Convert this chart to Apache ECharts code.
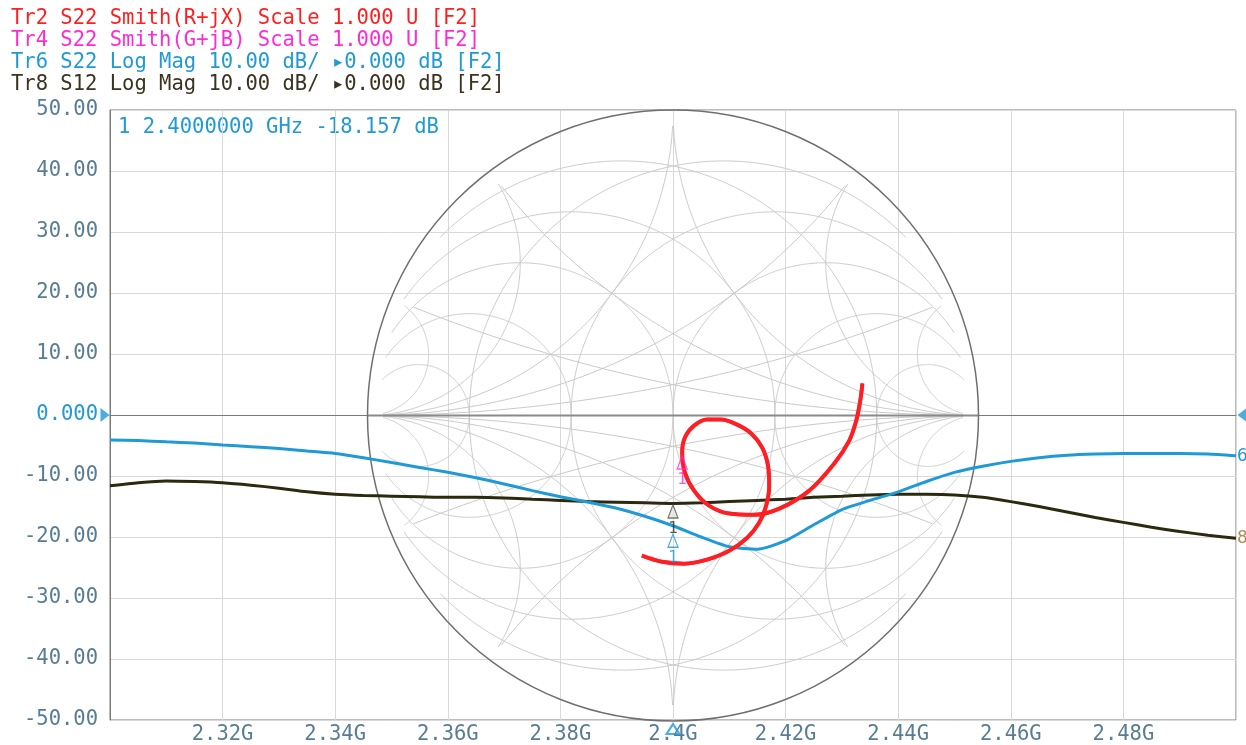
<!DOCTYPE html>
<html>
<head>
<meta charset="utf-8">
<script src="https://cdn.jsdelivr.net/npm/echarts@6/dist/echarts.min.js"></script>
<style>
  html, body { margin: 0; padding: 0; background: #ffffff; }
  #chart { width: 1246px; height: 745px; }
</style>
</head>
<body>
<div id="chart"></div>
<script>
// Sweep points (GHz)
const freqGHz = [
  2.300, 2.305, 2.310, 2.315, 2.320, 2.325, 2.330, 2.335, 2.340, 2.345,
  2.350, 2.355, 2.360, 2.365, 2.370, 2.375, 2.380, 2.385, 2.390, 2.395,
  2.400, 2.405, 2.410, 2.415, 2.420, 2.425, 2.430, 2.435, 2.440, 2.445,
  2.450, 2.455, 2.460, 2.465, 2.470, 2.475, 2.480, 2.485, 2.490, 2.495, 2.500
];

// Tr6: S22 log magnitude (dB)
const s22LogMag = [
  -4.1, -4.2, -4.4, -4.6, -4.9, -5.2, -5.5, -5.9, -6.3, -7.0,
  -7.8, -8.6, -9.4, -10.3, -11.3, -12.4, -13.4, -14.3, -15.3, -16.6,
  -18.157, -20.0, -21.6, -22.0, -20.6, -18.0, -15.5, -14.0, -12.6, -10.9,
  -9.4, -8.4, -7.6, -7.0, -6.6, -6.4, -6.3, -6.3, -6.3, -6.4, -6.7
];

// Tr8: S12 log magnitude (dB)
const s12LogMag = [
  -11.6, -11.1, -10.8, -10.9, -11.1, -11.5, -12.0, -12.6, -13.0, -13.2,
  -13.3, -13.4, -13.5, -13.5, -13.6, -13.8, -14.0, -14.2, -14.3, -14.4,
  -14.5, -14.4, -14.2, -14.0, -13.8, -13.5, -13.3, -13.1, -13.0, -13.0,
  -13.1, -13.5, -14.2, -15.0, -15.9, -16.8, -17.6, -18.4, -19.1, -19.7, -20.2
];

// Tr2 / Tr4: S22 reflection coefficient on the Smith chart (real, imaginary)
const s22Re = [
  0.620, 0.613, 0.600, 0.577, 0.528, 0.446, 0.348, 0.266, 0.184, 0.118,
  0.069, 0.039, 0.030, 0.039, 0.069, 0.111, 0.157, 0.210, 0.256, 0.292,
  0.311, 0.315, 0.305, 0.282, 0.243, 0.184, 0.111, 0.036, -0.036, -0.102
];
const s22Im = [
  0.105, 0.049, -0.016, -0.082, -0.157, -0.246, -0.305, -0.325, -0.321, -0.295,
  -0.246, -0.187, -0.121, -0.072, -0.033, -0.013, -0.013, -0.030, -0.059, -0.105,
  -0.164, -0.230, -0.295, -0.351, -0.400, -0.443, -0.472, -0.485, -0.479, -0.459
];
// point of the Smith trace that sits at the marker frequency
const smithMarkerIndex = 12;

// Marker 1 stimulus
const markerFreq = 2.4;

// Smith grid values (resistance / reactance, conductance / susceptance)
const smithGridValues = [0.2, 0.5, 1, 2, 5];

const MONO = '"DejaVu Sans Mono", "Liberation Mono", monospace';
const FS = 20.5;
const C_TR2 = '#ff1f1f';
const C_TR4 = '#ff2ad6';
const C_TR6 = '#1f9ad6';
const C_TR8 = '#2c2a0e';
const C_AXIS_TEXT = '#587d92';

const PLOT = { left: 110, top: 110, width: 1126, height: 611 };
const smithR = PLOT.height / 2;
const SMITH = {
  left: PLOT.left + PLOT.width / 2 - smithR,
  top: PLOT.top,
  width: 2 * smithR,
  height: 2 * smithR
};

const mIdx = freqGHz.indexOf(markerFreq);
const pairs = (xs, ys) => xs.map((x, i) => [x, ys[i]]);

// Smith chart grid, drawn in reflection-coefficient coordinates
function smithGridItem(params, api) {
  const children = [];
  const lim = 0.96;
  function addCircle(cx, cy, R, style, limit) {
    const N = 900;
    const a0 = (cx === 0 && cy === 0) ? 0 : Math.atan2(cy, cx);
    let cur = [];
    const flush = () => {
      if (cur.length > 1) children.push({ type: 'polyline', shape: { points: cur }, style: style });
      cur = [];
    };
    for (let i = 0; i <= N; i++) {
      const a = a0 + 2 * Math.PI * i / N;
      const x = cx + R * Math.cos(a);
      const y = cy + R * Math.sin(a);
      if (Math.sqrt(x * x + y * y) <= limit + 1e-6) cur.push(api.coord([x, y]));
      else flush();
    }
    flush();
  }
  const thin = { stroke: '#cacaca', lineWidth: 1, fill: null };
  smithGridValues.forEach(function (v) {
    // constant resistance and conductance circles
    addCircle(v / (1 + v), 0, 1 / (1 + v), thin, lim);
    addCircle(-v / (1 + v), 0, 1 / (1 + v), thin, lim);
    // constant reactance and susceptance arcs
    [1, -1].forEach(function (s) {
      addCircle(1, s / v, 1 / v, thin, lim - 0.01);
      addCircle(-1, s / v, 1 / v, thin, lim - 0.01);
    });
  });
  const l = api.coord([-1, 0]), r = api.coord([1, 0]);
  children.push({ type: 'line', shape: { x1: l[0], y1: l[1], x2: r[0], y2: r[1] },
    style: { stroke: '#8a8a8a', lineWidth: 2 } });
  const c = api.coord([0, 0]), e = api.coord([1, 0]);
  children.push({ type: 'circle', shape: { cx: c[0], cy: c[1], r: e[0] - c[0] },
    style: { stroke: '#6f6f6f', lineWidth: 1.5, fill: null } });
  return { type: 'group', children: children };
}

function markerSeries(name, xi, yi, point, color, fill, labelColor, drop) {
  return {
    name: name, type: 'scatter', xAxisIndex: xi, yAxisIndex: yi, clip: false, z: 20,
    symbol: 'triangle', symbolSize: [10, 13], symbolOffset: [0, drop],
    itemStyle: { color: fill, borderColor: color, borderWidth: 1.3 },
    label: { show: true, position: 'bottom', distance: 2, formatter: '1',
      color: labelColor, fontFamily: MONO, fontSize: 16 },
    data: [point], animation: false, silent: true
  };
}

const headerLines = [
  { text: 'Tr2 S22 Smith(R+jX) Scale 1.000 U [F2]', color: C_TR2 },
  { text: 'Tr4 S22 Smith(G+jB) Scale 1.000 U [F2]', color: C_TR4 },
  { text: 'Tr6 S22 Log Mag 10.00 dB/ \u25B80.000 dB [F2]', color: C_TR6 },
  { text: 'Tr8 S12 Log Mag 10.00 dB/ \u25B80.000 dB [F2]', color: '#3a3320' }
];

const readout = '1 ' + markerFreq.toFixed(7) + ' GHz ' + s22LogMag[mIdx].toFixed(3) + ' dB';

const chart = echarts.init(document.getElementById('chart'), null, { renderer: 'canvas' });

chart.setOption({
  backgroundColor: '#ffffff',
  animation: false,
  grid: [
    Object.assign({ show: true, borderColor: '#7a7a7a', borderWidth: 1, backgroundColor: 'transparent' }, PLOT),
    Object.assign({ show: false }, SMITH)
  ],
  xAxis: [
    {
      type: 'value', gridIndex: 0, min: 2.3, max: 2.5, interval: 0.02,
      axisLine: { show: true, lineStyle: { color: '#7a7a7a' } },
      axisTick: { show: false },
      splitLine: { show: true, lineStyle: { color: '#d9d9d9', width: 1 } },
      axisLabel: {
        showMinLabel: false, showMaxLabel: false, margin: 4,
        color: C_AXIS_TEXT, fontFamily: MONO, fontSize: FS,
        formatter: v => parseFloat(Number(v).toFixed(3)) + 'G'
      }
    },
    { type: 'value', gridIndex: 1, min: -1, max: 1, show: false }
  ],
  yAxis: [
    {
      type: 'value', gridIndex: 0, min: -50, max: 50, interval: 10,
      axisLine: { show: true, lineStyle: { color: '#7a7a7a' } },
      axisTick: { show: false },
      splitLine: { show: true, lineStyle: { color: '#d9d9d9', width: 1 } },
      axisLabel: {
        margin: 12, fontFamily: MONO, fontSize: FS,
        color: v => (Number(v) === 0 ? C_TR6 : C_AXIS_TEXT),
        formatter: v => (Number(v) === 0 ? '0.000' : Number(v).toFixed(2))
      }
    },
    { type: 'value', gridIndex: 1, min: -1, max: 1, show: false }
  ],
  graphic: headerLines.map((h, i) => ({
    type: 'text', left: 11, top: 8 + i * 22, silent: true,
    style: { text: h.text, fill: h.color, font: FS + 'px ' + MONO }
  })).concat([{
    type: 'text', left: 118, top: 117, silent: true,
    style: { text: readout, fill: C_TR6, font: FS + 'px ' + MONO }
  }]),
  series: [
    {
      name: 'smithGrid', type: 'custom', xAxisIndex: 1, yAxisIndex: 1,
      renderItem: smithGridItem, data: [[0, 0]], clip: false, silent: true, z: 1
    },
    {
      name: 'Tr8', type: 'line', xAxisIndex: 0, yAxisIndex: 0, z: 3,
      data: pairs(freqGHz, s12LogMag), showSymbol: false, smooth: 0.2,
      lineStyle: { color: C_TR8, width: 3 },
      endLabel: { show: true, formatter: '8', color: '#a88f55', fontFamily: MONO, fontSize: 18, distance: 1 }
    },
    {
      name: 'Tr6', type: 'line', xAxisIndex: 0, yAxisIndex: 0, z: 4,
      data: pairs(freqGHz, s22LogMag), showSymbol: false, smooth: 0.2,
      lineStyle: { color: C_TR6, width: 3 },
      endLabel: { show: true, formatter: '6', color: C_TR6, fontFamily: MONO, fontSize: 18, distance: 1 }
    },
    {
      name: 'Tr4', type: 'line', xAxisIndex: 1, yAxisIndex: 1, z: 5,
      data: pairs(s22Re, s22Im), showSymbol: false, smooth: 0.35,
      lineStyle: { color: C_TR4, width: 3.5 }
    },
    {
      name: 'Tr2', type: 'line', xAxisIndex: 1, yAxisIndex: 1, z: 6,
      data: pairs(s22Re, s22Im), showSymbol: false, smooth: 0.35,
      lineStyle: { color: C_TR2, width: 4 }
    },
    markerSeries('Tr8 marker', 0, 0, [markerFreq, s12LogMag[mIdx]], '#5a5a50', '#e6e6e0', '#3a3320', 8),
    markerSeries('Tr6 marker', 0, 0, [markerFreq, s22LogMag[mIdx]], C_TR6, 'rgba(255,255,255,0)', C_TR6, 15),
    markerSeries('Tr4 marker', 1, 1, [s22Re[smithMarkerIndex], s22Im[smithMarkerIndex]], C_TR4, 'rgba(255,255,255,0)', C_TR4, 10),
    {
      name: 'reference', type: 'scatter', xAxisIndex: 0, yAxisIndex: 0, clip: false, z: 20,
      silent: true, itemStyle: { color: C_TR6 },
      data: [
        { value: [2.3, 0], symbol: 'path://M0,0 L9,7 L0,14 Z', symbolSize: [9, 14], symbolOffset: [-5, 0] },
        { value: [2.5, 0], symbol: 'path://M9,0 L0,7 L9,14 Z', symbolSize: [9, 14], symbolOffset: [6, 0] }
      ]
    },
    {
      name: 'stimulus', type: 'scatter', xAxisIndex: 0, yAxisIndex: 0, clip: false, z: 20,
      silent: true, symbol: 'triangle', symbolSize: [13, 10], symbolOffset: [0, 9],
      itemStyle: { color: 'rgba(255,255,255,0)', borderColor: C_TR6, borderWidth: 2 },
      data: [[markerFreq, -50]]
    }
  ]
});
</script>
</body>
</html>
